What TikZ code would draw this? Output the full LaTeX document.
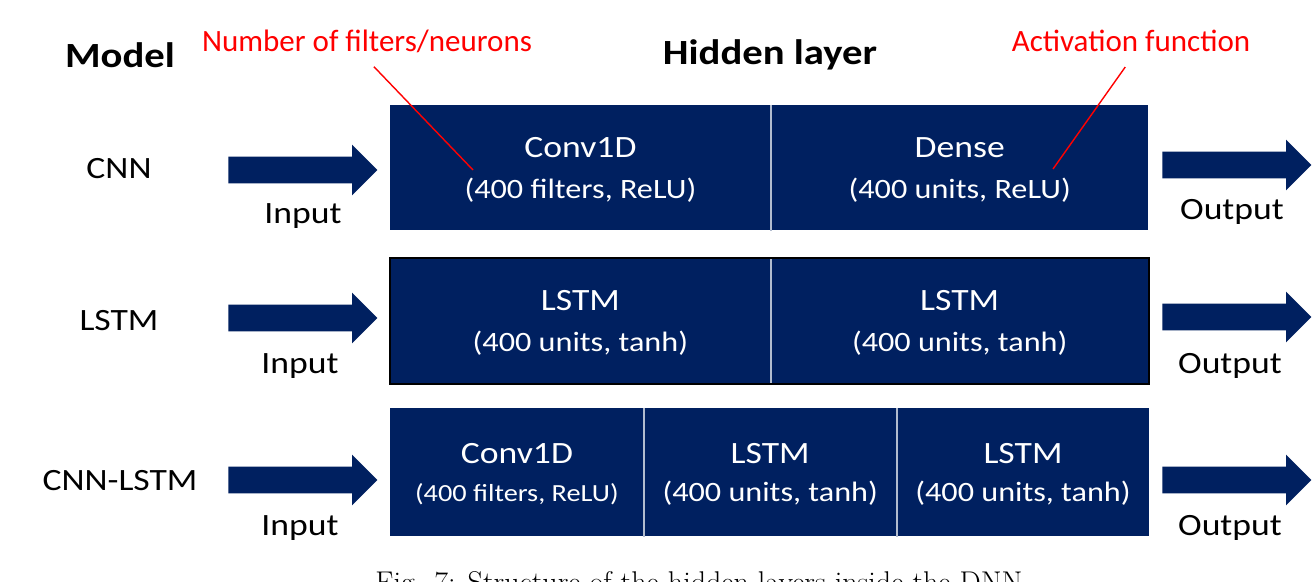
\documentclass[tikz,border=0pt]{standalone}
\usepackage{fontspec}
\usetikzlibrary{shapes.arrows}

\newfontfamily\calfont{Carlito}[FakeStretch=1.15]
\newfontfamily\notefont{Carlito}
\definecolor{navy}{RGB}{0,32,96}

% smaller second line inside a cell
\newcommand{\subln}[2][14]{{\fontsize{#1}{\baselineskip}\selectfont #2}}

\tikzset{
  cell/.style={fill=navy, text=white, align=center, inner sep=0pt,
    anchor=north west, minimum height=62.5pt, text depth=-3pt,
    font=\calfont\fontsize{15.5}{20.5}\selectfont},
  lowcell/.style={cell, minimum height=64pt,
    font=\calfont\fontsize{15.5}{19}\selectfont},
  divider/.style={draw=white!70!navy, line width=1pt},
  fatarrow/.style={single arrow, fill=navy, inner sep=0pt, inner ysep=6.5pt,
    single arrow head extend=6pt, minimum height=74.5pt, anchor=tail},
  lbl/.style={font=\calfont\fontsize{15.5}{18}\selectfont},
  head/.style={font=\calfont\bfseries\fontsize{17.7}{20}\selectfont},
  note/.style={text=red, font=\notefont\fontsize{15.5}{18}\selectfont},
  pointer/.style={draw=red, line width=0.7pt, shorten <=5pt}
}

\begin{document}
\begin{tikzpicture}[x=0.5pt,y=-0.5pt]

\fill[white] (0,0) rectangle (1312,582);
\useasboundingbox (0,0) rectangle (1312,582);

% headers and notes
\node[head] (model) at (120,55) {Model};
\node[head] (hidden) at (770,55) {Hidden layer};
\node[note] (nfnote) at (367,41) {Number of filters/neurons};
\node[note] (actnote) at (1131,41) {Activation function};

% CNN
\node[lbl] (cnn) at (119,169) {CNN};
\node[fatarrow] (in1) at (228,170) {};
\node[lbl] (inlbl1) at (303,216) {Input};
\node[cell, minimum width=190pt] (c1a) at (390,105)
  {Conv1D\\\subln{(400 filters, ReLU)}};
\node[cell, minimum width=188.5pt] (c1b) at (c1a.north east)
  {Dense\\\subln{(400 units, ReLU)}};
\draw[divider] (c1a.north east) -- (c1a.south east);
\node[fatarrow] (out1) at (1162,165) {};
\node[lbl] (outlbl1) at (1232,212) {Output};

% LSTM
\node[lbl] (lstm) at (119,321) {LSTM};
\node[fatarrow] (in2) at (228,318) {};
\node[lbl] (inlbl2) at (300,366) {Input};
\node[cell, minimum width=190pt] (c2a) at (390,258)
  {LSTM\\\subln{(400 units, tanh)}};
\node[cell, minimum width=188.5pt] (c2b) at (c2a.north east)
  {LSTM\\\subln{(400 units, tanh)}};
\draw[divider] (c2a.north east) -- (c2a.south east);
\draw[line width=1pt] (c2a.north west) rectangle (c2b.south east);
\node[fatarrow] (out2) at (1162,317) {};
\node[lbl] (outlbl2) at (1230,366) {Output};

% CNN-LSTM
\node[lbl] (cnnlstm) at (120,481) {CNN-LSTM};
\node[fatarrow] (in3) at (228,480) {};
\node[lbl] (inlbl3) at (300,528) {Input};
\node[lowcell, minimum width=126.5pt] (c3a) at (390,408)
  {Conv1D\\\subln[12.3]{(400 filters, ReLU)}};
\node[lowcell, minimum width=126pt] (c3b) at (c3a.north east)
  {LSTM\\\subln{(400 units, tanh)}};
\node[lowcell, minimum width=126pt] (c3c) at (c3b.north east)
  {LSTM\\\subln{(400 units, tanh)}};
\draw[divider] (c3a.north east) -- (c3a.south east);
\draw[divider] (c3b.north east) -- (c3b.south east);
\node[fatarrow] (out3) at (1162,480) {};
\node[lbl] (outlbl3) at (1230,528) {Output};

% red pointers
\coordinate (nfpt) at (473,170);
\coordinate (actpt) at (1053,169);
\draw[pointer] (nfnote.south) -- (nfpt);
\draw[pointer] (actnote.south) -- (actpt);

% caption, cut by the page edge
\node[anchor=base, font=\fontsize{15}{18}\selectfont] (cap) at (699,592)
  {Fig. 7: Structure of the hidden layers inside the DNN};

\end{tikzpicture}
\end{document}
